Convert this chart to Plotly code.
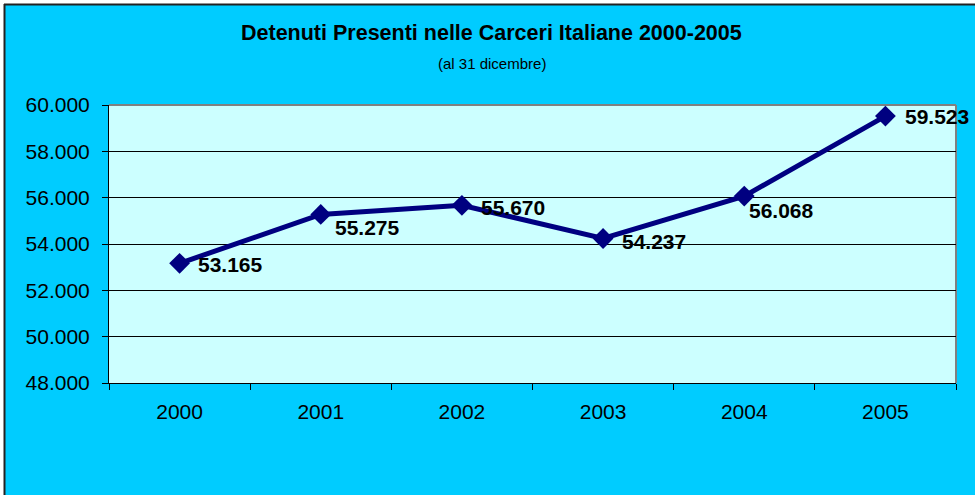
import plotly.graph_objects as go

years = ["2000", "2001", "2002", "2003", "2004", "2005"]
detenuti = [53165, 55275, 55670, 54237, 56068, 59523]
value_labels = ["53.165", "55.275", "55.670", "54.237", "56.068", "59.523"]
y_ticks = [48000, 50000, 52000, 54000, 56000, 58000, 60000]
y_tick_labels = ["48.000", "50.000", "52.000", "54.000", "56.000", "58.000", "60.000"]

title_text = "Detenuti Presenti nelle Carceri Italiane 2000-2005"
subtitle_text = "(al 31 dicembre)"

# per-label pixel offsets (label placement tweaks as in original)
label_dx = [16, 12, 17, 17, 3, 18]
label_dy = [-1, -13, -2, -3, -14, 0]

FONT = "Arial, Liberation Sans, sans-serif"
W, H = 975, 495
L, R, T, B = 109, 19, 105, 112
pw, ph = W - L - R, H - T - B


def px(x):
    return (x - L) / pw


def py(y):
    return (H - B - y) / ph


fig = go.Figure()
fig.add_trace(go.Scatter(
    x=years, y=detenuti, mode="lines+markers",
    line=dict(color="#000080", width=5),
    marker=dict(symbol="diamond", size=16, color="#000080"),
    cliponaxis=False, hoverinfo="skip", showlegend=False,
))

annotations = []
for i, (v, t) in enumerate(zip(detenuti, value_labels)):
    annotations.append(dict(
        x=i, y=v, xref="x", yref="y", text="<b>" + t + "</b>", showarrow=False,
        xanchor="left", yanchor="middle", xshift=label_dx[i], yshift=label_dy[i],
        font=dict(family=FONT, size=21, color="black"),
    ))

annotations.append(dict(
    x=px(491), y=py(33), xref="paper", yref="paper", text="<b>" + title_text + "</b>",
    showarrow=False, xanchor="center", yanchor="middle",
    font=dict(family=FONT, size=21.5, color="black"),
))
annotations.append(dict(
    x=px(492), y=py(63), xref="paper", yref="paper", text=subtitle_text,
    showarrow=False, xanchor="center", yanchor="middle",
    font=dict(family=FONT, size=15, color="black"),
))

shapes = [
    # white outside strips (left and top)
    dict(type="rect", xref="paper", yref="paper", x0=px(-5), x1=px(4), y0=py(500), y1=py(-5),
         fillcolor="white", line=dict(width=0), layer="above"),
    dict(type="rect", xref="paper", yref="paper", x0=px(-5), x1=px(980), y0=py(4), y1=py(-5),
         fillcolor="white", line=dict(width=0), layer="above"),
    # chart border (left + top)
    dict(type="line", xref="paper", yref="paper", x0=px(4.5), x1=px(4.5), y0=py(500), y1=py(4),
         line=dict(color="#222222", width=2), layer="above"),
    dict(type="line", xref="paper", yref="paper", x0=px(4), x1=px(980), y0=py(4.5), y1=py(4.5),
         line=dict(color="#222222", width=2), layer="above"),
    # plot area grey border (top + right)
    dict(type="line", xref="paper", yref="paper", x0=0, x1=1, y0=1, y1=1,
         line=dict(color="#808080", width=2), layer="below"),
    dict(type="line", xref="paper", yref="paper", x0=1, x1=1, y0=0, y1=1,
         line=dict(color="#808080", width=2), layer="below"),
]

fig.update_layout(
    width=W, height=H,
    margin=dict(l=L, r=R, t=T, b=B, pad=0),
    paper_bgcolor="#00CCFF", plot_bgcolor="#CCFFFF",
    separators=",.",
    showlegend=False,
    annotations=annotations, shapes=shapes,
    font=dict(family=FONT, color="black"),
)
fig.update_xaxes(
    type="category", range=[-0.5, 5.5], tickson="boundaries",
    ticks="outside", ticklen=6, tickcolor="black", tickwidth=1,
    showline=True, linecolor="black", linewidth=1, showgrid=False,
    tickfont=dict(family=FONT, size=21, color="black"),
    ticklabelstandoff=10, fixedrange=True,
)
fig.update_yaxes(
    range=[48000, 60000], tickvals=y_ticks, ticktext=y_tick_labels,
    ticks="outside", ticklen=6, tickcolor="black", tickwidth=1,
    showline=True, linecolor="black", linewidth=1,
    showgrid=True, gridcolor="black", gridwidth=1, zeroline=False,
    tickfont=dict(family=FONT, size=21, color="black"),
    ticklabelstandoff=8, fixedrange=True,
)

fig.write_html(
    "out.html",
    config={"displayModeBar": False},
    post_script="document.body.style.margin='0';document.body.style.overflow='hidden';",
)
